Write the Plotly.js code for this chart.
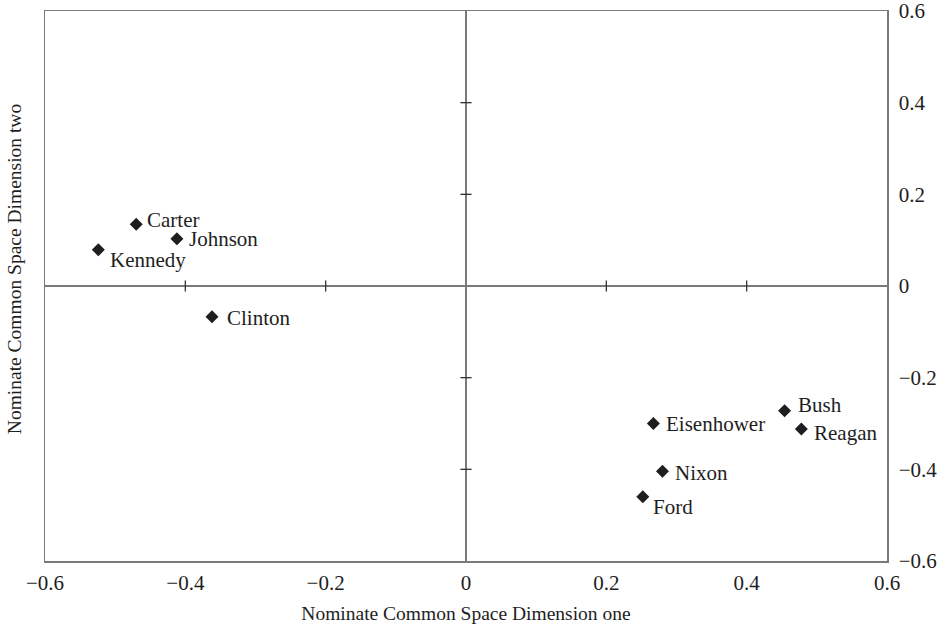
<!DOCTYPE html>
<html>
<head>
<meta charset="utf-8">
<script src="https://cdn.plot.ly/plotly-3.0.1.min.js"></script>
<style>html,body{margin:0;padding:0;background:#fff}#chart{width:939px;height:631px}</style>
</head>
<body>
<div id="chart"></div>
<script>
// Data
const presidents = ["Carter", "Johnson", "Kennedy", "Clinton", "Eisenhower", "Bush", "Reagan", "Nixon", "Ford"];
const dimOne = [-0.470, -0.412, -0.524, -0.362, 0.267, 0.454, 0.478, 0.280, 0.252];
const dimTwo = [0.135, 0.103, 0.079, -0.067, -0.300, -0.272, -0.312, -0.404, -0.460];

const axisTickVals = [-0.6, -0.4, -0.2, 0, 0.2, 0.4, 0.6];
const axisTickText = ["\u22120.6", "\u22120.4", "\u22120.2", "0", "0.2", "0.4", "0.6"];
const centerTickVals = [-0.4, -0.2, 0.2, 0.4];

const xTitle = "Nominate Common Space Dimension one";
const yTitle = "Nominate Common Space Dimension two";

// Label placement (style only, pixel offsets)
const labelShiftX = [9, 10, 10, 13, 11, 11, 11, 11, 8];
const labelShiftY = [4, 0, -10, -1, 0, 6, -4, -2, -10];

const FONT = "Liberation Serif, Times New Roman, serif";
const INK = "#1e1e1e";
const GREY = "#7a7a7a";

const traces = [
  {
    x: centerTickVals.map(() => 0), y: centerTickVals,
    mode: "markers", type: "scatter", hoverinfo: "skip",
    marker: {symbol: "line-ew", size: 8, line: {color: "#333", width: 1.3}},
    showlegend: false
  },
  {
    x: centerTickVals, y: centerTickVals.map(() => 0),
    mode: "markers", type: "scatter", hoverinfo: "skip",
    marker: {symbol: "line-ns", size: 8, line: {color: "#333", width: 1.3}},
    showlegend: false
  },
  {
    x: dimOne, y: dimTwo, text: presidents,
    mode: "markers", type: "scatter",
    marker: {symbol: "diamond", size: 10, color: INK},
    showlegend: false
  }
];

const annotations = presidents.map((p, i) => ({
  x: dimOne[i], y: dimTwo[i], text: p, showarrow: false,
  xanchor: "left", yanchor: "middle",
  xshift: labelShiftX[i], yshift: labelShiftY[i],
  font: {family: FONT, size: 21, color: INK}
}));
annotations.push({
  xref: "paper", yref: "paper", x: -0.036, y: 0.53,
  text: yTitle, textangle: -90, showarrow: false,
  xanchor: "center", yanchor: "middle",
  font: {family: FONT, size: 19.5, color: INK}
});

const layout = {
  width: 939, height: 631,
  margin: {l: 45, r: 52, t: 11, b: 70, pad: 0},
  paper_bgcolor: "#fff", plot_bgcolor: "#fff",
  font: {family: FONT, size: 21, color: INK},
  xaxis: {
    range: [-0.6, 0.6], tickvals: axisTickVals, ticktext: axisTickText,
    showgrid: false, zeroline: true, zerolinecolor: GREY, zerolinewidth: 1.5,
    showline: true, mirror: true, linecolor: GREY, linewidth: 1.5,
    ticks: "", ticklabelstandoff: 2, ticklabeloverflow: "allow",
    tickfont: {family: FONT, size: 21, color: INK},
    title: {text: xTitle, font: {family: FONT, size: 19.5, color: INK}, standoff: 12},
    fixedrange: true
  },
  yaxis: {
    range: [-0.6, 0.6], tickvals: axisTickVals, ticktext: axisTickText,
    side: "right",
    showgrid: false, zeroline: true, zerolinecolor: GREY, zerolinewidth: 1.5,
    showline: true, mirror: true, linecolor: GREY, linewidth: 1.5,
    ticks: "", ticklabelstandoff: 6, ticklabeloverflow: "allow",
    tickfont: {family: FONT, size: 21, color: INK},
    fixedrange: true
  },
  annotations: annotations,
  showlegend: false
};

Plotly.newPlot("chart", traces, layout, {displayModeBar: false, staticPlot: true});
</script>
</body>
</html>
